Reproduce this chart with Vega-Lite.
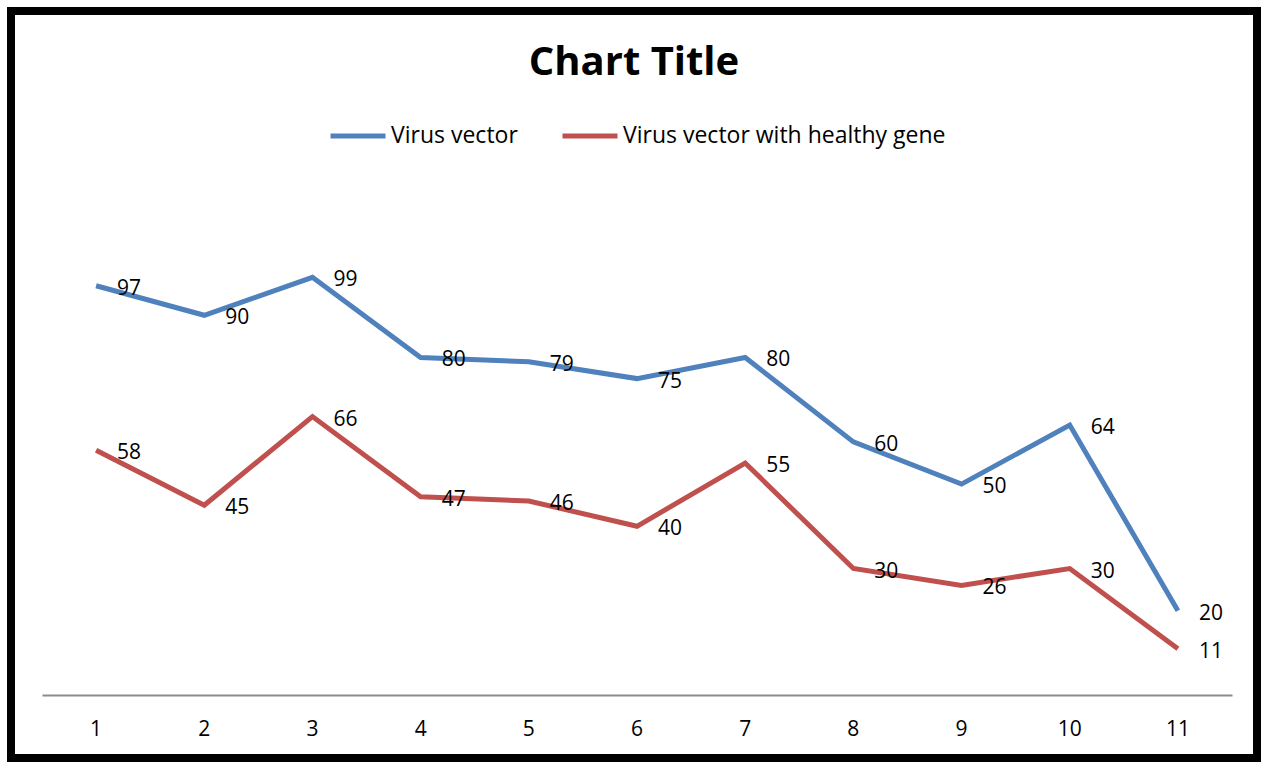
{
  "$schema": "https://vega.github.io/schema/vega-lite/v6.json",
  "autosize": "none",
  "width": 1246,
  "height": 747,
  "padding": {"left": 11, "top": 11, "right": 4, "bottom": 4},
  "background": "white",
  "title": {
    "text": "Chart Title",
    "anchor": "middle",
    "frame": "group",
    "font": "Open Sans",
    "fontSize": 40,
    "fontWeight": "bold",
    "color": "#000000",
    "offset": -104,
    "baseline": "alphabetic"
  },
  "data": {
    "values": [
      {"x": 1, "series": "Virus vector", "value": 97},
      {"x": 2, "series": "Virus vector", "value": 90},
      {"x": 3, "series": "Virus vector", "value": 99},
      {"x": 4, "series": "Virus vector", "value": 80},
      {"x": 5, "series": "Virus vector", "value": 79},
      {"x": 6, "series": "Virus vector", "value": 75},
      {"x": 7, "series": "Virus vector", "value": 80},
      {"x": 8, "series": "Virus vector", "value": 60},
      {"x": 9, "series": "Virus vector", "value": 50},
      {"x": 10, "series": "Virus vector", "value": 64},
      {"x": 11, "series": "Virus vector", "value": 20},
      {"x": 1, "series": "Virus vector with healthy gene", "value": 58},
      {"x": 2, "series": "Virus vector with healthy gene", "value": 45},
      {"x": 3, "series": "Virus vector with healthy gene", "value": 66},
      {"x": 4, "series": "Virus vector with healthy gene", "value": 47},
      {"x": 5, "series": "Virus vector with healthy gene", "value": 46},
      {"x": 6, "series": "Virus vector with healthy gene", "value": 40},
      {"x": 7, "series": "Virus vector with healthy gene", "value": 55},
      {"x": 8, "series": "Virus vector with healthy gene", "value": 30},
      {"x": 9, "series": "Virus vector with healthy gene", "value": 26},
      {"x": 10, "series": "Virus vector with healthy gene", "value": 30},
      {"x": 11, "series": "Virus vector with healthy gene", "value": 11}
    ]
  },
  "encoding": {
    "x": {
      "field": "x",
      "type": "ordinal",
      "scale": {"type": "band", "range": [31, 1221], "paddingInner": 0, "paddingOuter": 0},
      "axis": {
        "title": null,
        "labelAngle": 0,
        "offset": -63,
        "ticks": false,
        "grid": false,
        "domainColor": "#8c8c8c",
        "domainWidth": 2,
        "labelPadding": 23,
        "labelFont": "Open Sans",
        "labelFontSize": 21,
        "labelColor": "#000000"
      }
    },
    "y": {
      "field": "value",
      "type": "quantitative",
      "scale": {"domain": [-14.9, 162.1], "nice": false, "zero": false},
      "axis": null
    },
    "color": {
      "field": "series",
      "type": "nominal",
      "scale": {"domain": ["Virus vector", "Virus vector with healthy gene"], "range": ["#4F81BD", "#C0504D"]},
      "legend": {
        "orient": "none",
        "legendX": 317,
        "legendY": 95,
        "direction": "horizontal",
        "title": null,
        "symbolType": "stroke",
        "symbolSize": 3025,
        "symbolStrokeWidth": 5,
        "labelFont": "Open Sans",
        "labelFontSize": 23,
        "labelColor": "#000000",
        "labelLimit": 0,
        "columnPadding": 34,
        "labelOffset": 3
      }
    }
  },
  "layer": [
    {"mark": {"type": "line", "strokeWidth": 5}},
    {
      "mark": {"type": "text", "align": "left", "baseline": "middle", "dx": 21, "dy": 3, "font": "Open Sans", "fontSize": 21},
      "encoding": {"text": {"field": "value", "type": "quantitative"}, "color": {"value": "#000000"}}
    }
  ],
  "config": {
    "view": {"stroke": "#000000", "strokeWidth": 8, "fill": "white"}
  }
}
